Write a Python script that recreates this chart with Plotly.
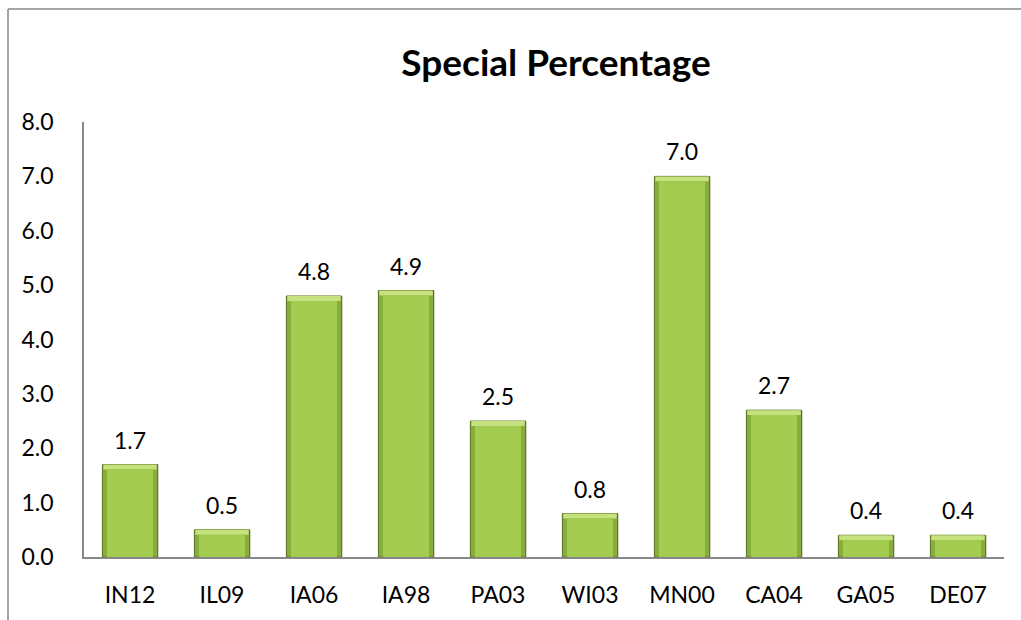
import plotly.graph_objects as go

# Chart data
categories = ["IN12", "IL09", "IA06", "IA98", "PA03", "WI03", "MN00", "CA04", "GA05", "DE07"]
special_pct = [1.7, 0.5, 4.8, 4.9, 2.5, 0.8, 7.0, 2.7, 0.4, 0.4]
y_ticks = [0, 1, 2, 3, 4, 5, 6, 7, 8]
y_tick_labels = ["0.0", "1.0", "2.0", "3.0", "4.0", "5.0", "6.0", "7.0", "8.0"]

W, H = 1021, 620
ML, MR, MT, MB = 84, 17, 122, 63
PW, PH = W - ML - MR, H - MT - MB
FONT = "Lato, 'Open Sans', sans-serif"
LABEL_SIZE = 23

bevel = 0.09  # thickness of the lit top edge, in axis units

fig = go.Figure()

# soft drop shadow behind each bar
fig.add_trace(go.Bar(
    x=categories, y=special_pct, width=0.6, offset=-0.285,
    marker=dict(color="rgba(0,0,0,0.13)", line=dict(width=0)),
    hoverinfo="skip", showlegend=False,
))
# outer body: darker sides and outline
fig.add_trace(go.Bar(
    x=categories, y=special_pct, width=0.6,
    marker=dict(color="#88ad3b", line=dict(color="#56721c", width=1)),
    hoverinfo="skip", showlegend=False,
))
# lit top edge
fig.add_trace(go.Bar(
    x=categories, y=[bevel] * len(special_pct),
    base=[v - bevel for v in special_pct], width=0.58,
    marker=dict(color="#c6e27f", line=dict(width=0)),
    hoverinfo="skip", showlegend=False,
))
# bar face
fig.add_trace(go.Bar(
    x=categories, y=[v - bevel for v in special_pct], width=0.5,
    marker=dict(color="#a3cb50", line=dict(width=0)),
    name="Special Percentage", showlegend=False,
))

# value labels above the bars
for c, v in zip(categories, special_pct):
    fig.add_annotation(
        x=c, y=v, text=f"{v:.1f}", showarrow=False,
        yanchor="bottom", yshift=9,
        font=dict(family=FONT, size=LABEL_SIZE, color="#000000"),
    )

# chart frame (left and top edges)
def px_x(px):
    return (px - ML) / PW

def px_y(py):
    return (H - MB - py) / PH

frame = dict(color="#878787", width=1.5)
fig.add_shape(type="line", xref="paper", yref="paper",
              x0=px_x(8), x1=px_x(8), y0=px_y(9), y1=px_y(H + 5), line=frame)
fig.add_shape(type="line", xref="paper", yref="paper",
              x0=px_x(8), x1=px_x(W + 5), y0=px_y(9), y1=px_y(9), line=frame)

fig.update_layout(
    width=W, height=H,
    margin=dict(l=ML, r=MR, t=MT, b=MB),
    paper_bgcolor="white", plot_bgcolor="white",
    barmode="overlay",
    title=dict(
        text="<b>Special Percentage</b>",
        xref="container", yref="container",
        x=556 / W, y=1 - 63 / H, xanchor="center", yanchor="middle",
        font=dict(family=FONT, size=37, color="#000000"),
    ),
    xaxis=dict(
        showgrid=False, showline=True, linecolor="#878787", linewidth=1.5,
        ticks="", tickfont=dict(family=FONT, size=LABEL_SIZE, color="#000000"),
        ticklabelstandoff=17,
    ),
    yaxis=dict(
        range=[0, 8], tickvals=y_ticks, ticktext=y_tick_labels,
        showgrid=False, showline=True, linecolor="#878787", linewidth=1.5,
        ticks="", tickfont=dict(family=FONT, size=LABEL_SIZE, color="#000000"),
        ticklabelstandoff=24, zeroline=False,
    ),
)

fig.write_html("out.html")
